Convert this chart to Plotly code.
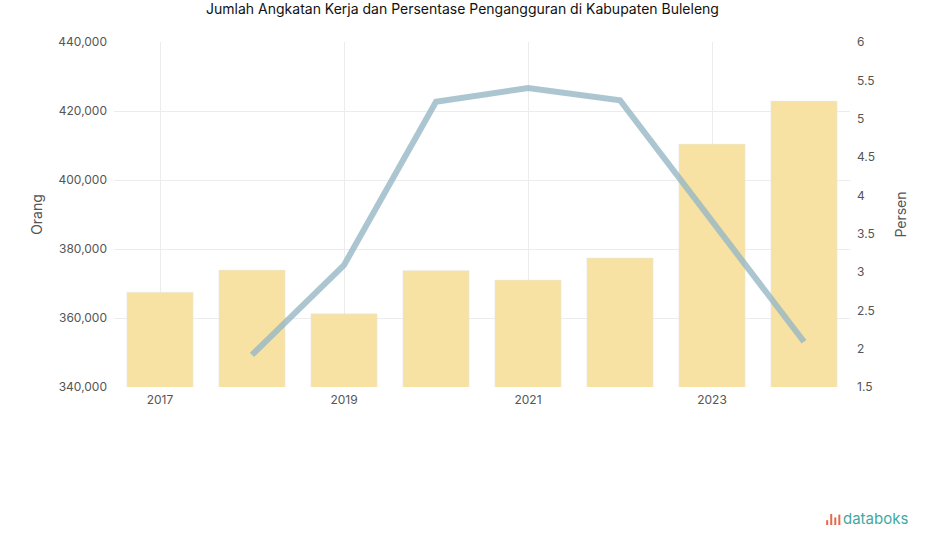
import plotly.graph_objects as go

years = ["2017", "2018", "2019", "2020", "2021", "2022", "2023", "2024"]
angkatan_kerja = [367500, 373900, 361200, 373800, 371000, 377400, 410400, 422900]
pengangguran_years = ["2018", "2019", "2020", "2021", "2022", "2023", "2024"]
pengangguran = [1.92, 3.09, 5.22, 5.40, 5.24, 3.68, 2.09]
left_ticks = [340000, 360000, 380000, 400000, 420000, 440000]
right_ticks = [1.5, 2, 2.5, 3, 3.5, 4, 4.5, 5, 5.5, 6]
x_ticks = ["2017", "2019", "2021", "2023"]

fig = go.Figure()
fig.add_trace(go.Bar(x=years, y=angkatan_kerja, marker_color="#F7E1A3",
                     name="Angkatan Kerja", yaxis="y"))
fig.add_trace(go.Scatter(x=pengangguran_years, y=pengangguran, mode="lines",
                         line=dict(color="rgba(150,184,196,0.8)", width=6),
                         name="Pengangguran", yaxis="y2"))

fig.update_layout(
    width=925, height=547,
    paper_bgcolor="white", plot_bgcolor="white",
    margin=dict(l=114, r=75, t=42, b=160),
    showlegend=False,
    bargap=0.28,
    font=dict(family="Inter, Roboto, sans-serif", color="#555555", size=12),
    title=dict(text="Jumlah Angkatan Kerja dan Persentase Pengangguran di Kabupaten Buleleng",
               x=0.5, xanchor="center", y=1 - 9 / 547, yanchor="middle",
               font=dict(size=14, color="#111111")),
    xaxis=dict(type="category", tickvals=x_ticks, ticktext=x_ticks,
               showgrid=True, gridcolor="#ECECEC", showline=False, zeroline=False,
               range=[-0.5, 7.5], ticks="", ticklabelstandoff=4),
    yaxis=dict(title=dict(text="Orang", standoff=12), range=[340000, 440000],
               tickvals=left_ticks, tickformat=",d", showgrid=True,
               gridcolor="#ECECEC", zeroline=False, ticks="", ticklabelstandoff=6),
    yaxis2=dict(title=dict(text="Persen", standoff=22), overlaying="y", side="right",
                range=[1.5, 6], tickvals=right_ticks, showgrid=False,
                zeroline=False, ticks="", ticklabelstandoff=6),
)

logo_y = -0.38
fig.add_annotation(text="databoks", xref="paper", yref="paper", x=1.0815, y=logo_y,
                   xanchor="right", yanchor="middle", showarrow=False,
                   font=dict(size=15, color="#3FA9A3", family="Inter, sans-serif"))
# small logo bars
logo_x = [0.0, 0.0055, 0.011, 0.0165]
logo_h = [0.014, 0.032, 0.022, 0.03]
for dx, h in zip(logo_x, logo_h):
    fig.add_shape(type="line", xref="paper", yref="paper",
                  x0=0.969 + dx, x1=0.969 + dx, y0=logo_y - 0.02, y1=logo_y - 0.02 + h,
                  line=dict(color="#E8674A", width=2))

fig.write_html("out.html", config={"displayModeBar": False},
               post_script="document.body.style.margin='0';")
